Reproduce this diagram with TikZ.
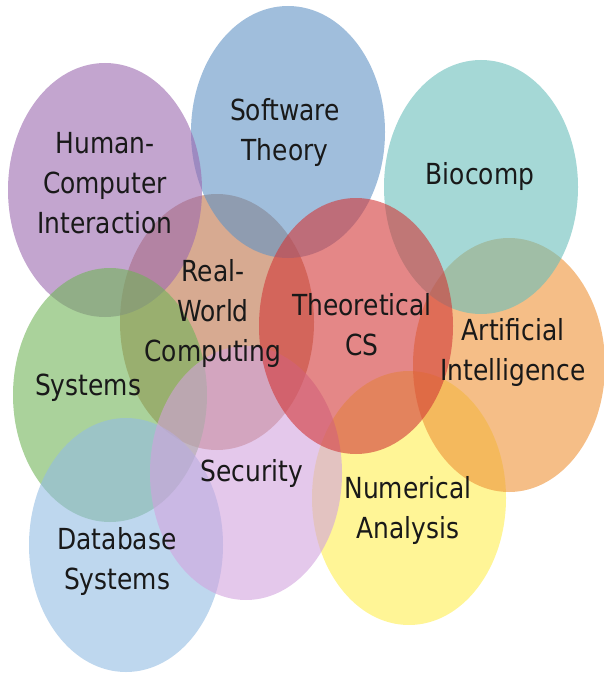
\documentclass[tikz,border=0pt]{standalone}
\usepackage{fontspec}
\setmainfont{DejaVu Sans}[FakeStretch=0.86]
\definecolor{hcic}{RGB}{155,105,175}
\definecolor{stc}{RGB}{97,147,197}
\definecolor{bioc}{RGB}{105,190,187}
\definecolor{rwcc}{RGB}{188,113,72}
\definecolor{tcsc}{RGB}{210,55,55}
\definecolor{aic}{RGB}{238,147,55}
\definecolor{sysc}{RGB}{113,180,88}
\definecolor{secc}{RGB}{210,163,222}
\definecolor{numc}{RGB}{255,238,80}
\definecolor{dbc}{RGB}{147,188,227}
\definecolor{txt}{RGB}{25,25,25}
\begin{document}
\begin{tikzpicture}[x=1pt,y=-1pt,
  blob/.style={fill opacity=0.6, draw=none},
  lbl/.style={align=center, font=\fontsize{29}{40}\selectfont, text=txt, inner sep=0pt}]
\useasboundingbox (0,0) rectangle (604,674);
\fill[blob, fill=rwcc] (217,322) ellipse [x radius=97, y radius=128];
\fill[blob, fill=stc]  (288,132) ellipse [x radius=97, y radius=126];
\fill[blob, fill=hcic] (105,190) ellipse [x radius=97, y radius=127];
\fill[blob, fill=sysc] (110,395) ellipse [x radius=97, y radius=127];
\fill[blob, fill=dbc]  (126,545) ellipse [x radius=97, y radius=127];
\fill[blob, fill=numc] (409,498) ellipse [x radius=97, y radius=127];
\fill[blob, fill=aic]  (509,365) ellipse [x radius=96, y radius=127];
\fill[blob, fill=bioc] (481,187) ellipse [x radius=97, y radius=127];
\fill[blob, fill=secc] (246,473) ellipse [x radius=96, y radius=127];
\fill[blob, fill=tcsc] (356,326) ellipse [x radius=97, y radius=128];
\node[lbl] (hci) at (105,183) {Human-\\Computer\\Interaction};
\node[lbl] (st) at (285,132) {Software\\Theory};
\node[lbl] (bio) at (480,176) {Biocomp};
\node[lbl] (rwc) at (213,313) {Real-\\World\\Computing};
\node[lbl] (tcs) at (362,325) {Theoretical\\CS};
\node[lbl] (ai) at (513,352) {Artificial\\Intelligence};
\node[lbl] (sys) at (88,388) {Systems};
\node[lbl] (sec) at (252,473) {Security};
\node[lbl] (num) at (408,510) {Numerical\\Analysis};
\node[lbl] (db) at (117,561) {Database\\Systems};
\end{tikzpicture}
\end{document}
